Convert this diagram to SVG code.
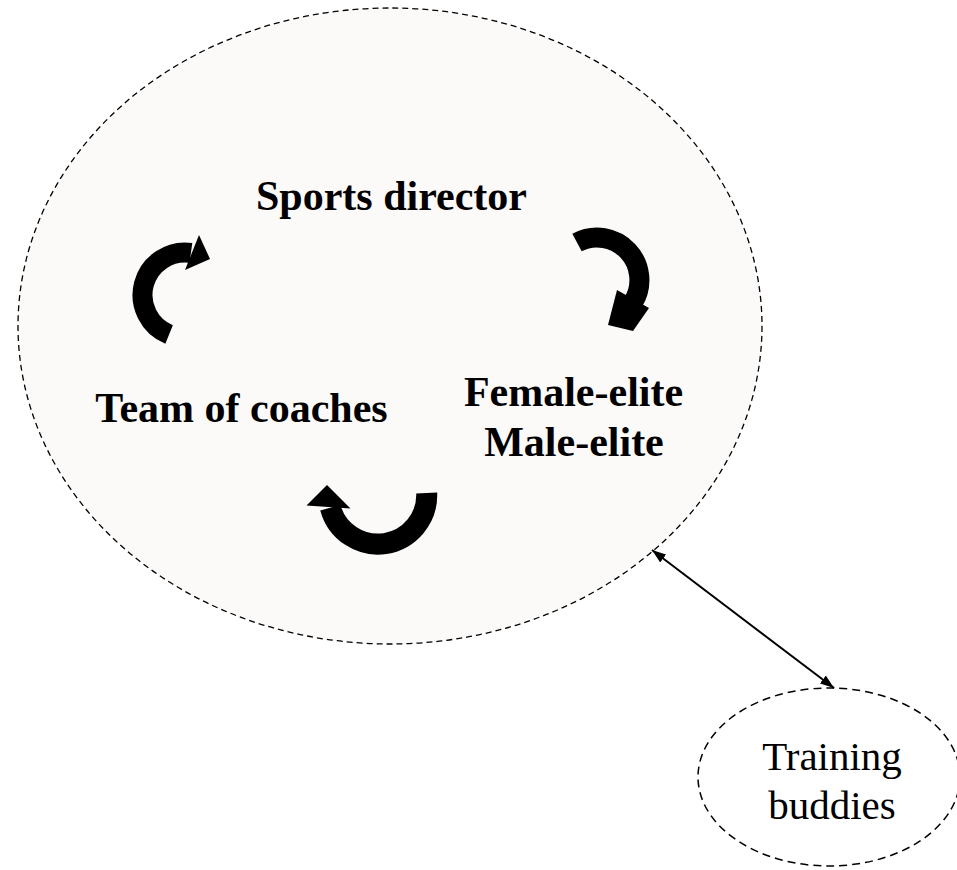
<svg xmlns="http://www.w3.org/2000/svg" width="957" height="870" viewBox="0 0 957 870">
<defs>
<style>
.big{fill:#FBFAF8;stroke:#000;stroke-width:1.3;stroke-dasharray:6 4}
.small{fill:#fff;stroke:#000;stroke-width:1.5;stroke-dasharray:8 5}
.lbl{font-family:"Liberation Serif","Times New Roman",serif;font-size:42px;font-weight:bold;fill:#000;text-anchor:middle}
.lbl2{font-family:"Liberation Serif","Times New Roman",serif;font-size:41px;fill:#000;text-anchor:middle}
.body{fill:none;stroke:#000;stroke-linecap:butt}
.conn{stroke:#000;stroke-width:2;fill:none}
</style>
<marker id="ah" viewBox="0 0 14 10" refX="14" refY="5" markerWidth="14" markerHeight="10" markerUnits="userSpaceOnUse" orient="auto-start-reverse">
<path d="M0,0 L14,5 L0,10 z" fill="#000"/>
</marker>
</defs>
<rect width="957" height="870" fill="#fff"/>
<g id="group-main">
<ellipse class="big" cx="390" cy="326" rx="372" ry="318"/>
</g>
<g id="node-sports-director">
<text class="lbl" x="391.5" y="210">Sports director</text>
</g>
<g id="node-team-of-coaches">
<text class="lbl" x="241.5" y="422">Team of coaches</text>
</g>
<g id="node-elite">
<text class="lbl" x="573.5" y="406">Female-elite</text>
<text class="lbl" x="574" y="456">Male-elite</text>
</g>
<g id="cycle-arrows">
<path class="body" stroke-width="20" d="M169.1,334.4 A42.5,42.5 0 0 1 190.9,252.9"/>
<polygon points="199,235 210,259 185,270" fill="#000"/>
<path class="body" stroke-width="20" d="M577,242.5 A42.5,42.5 0 0 1 633,302.5"/>
<polygon points="617,290 649,308 633,331 608,325" fill="#000"/>
<path class="body" stroke-width="21" d="M426.7,493 A49,49 0 0 1 330.4,507.7"/>
<polygon points="306.5,505.5 327,485 350.5,508.5" fill="#000"/>
</g>
<g id="node-training-buddies">
<ellipse class="small" cx="829" cy="777" rx="131" ry="89"/>
<text class="lbl2" x="832" y="770">Training</text>
<text class="lbl2" x="832" y="819">buddies</text>
</g>
<g id="connectors">
<line class="conn" x1="652" y1="550" x2="834" y2="688" marker-start="url(#ah)" marker-end="url(#ah)"/>
</g>
</svg>
